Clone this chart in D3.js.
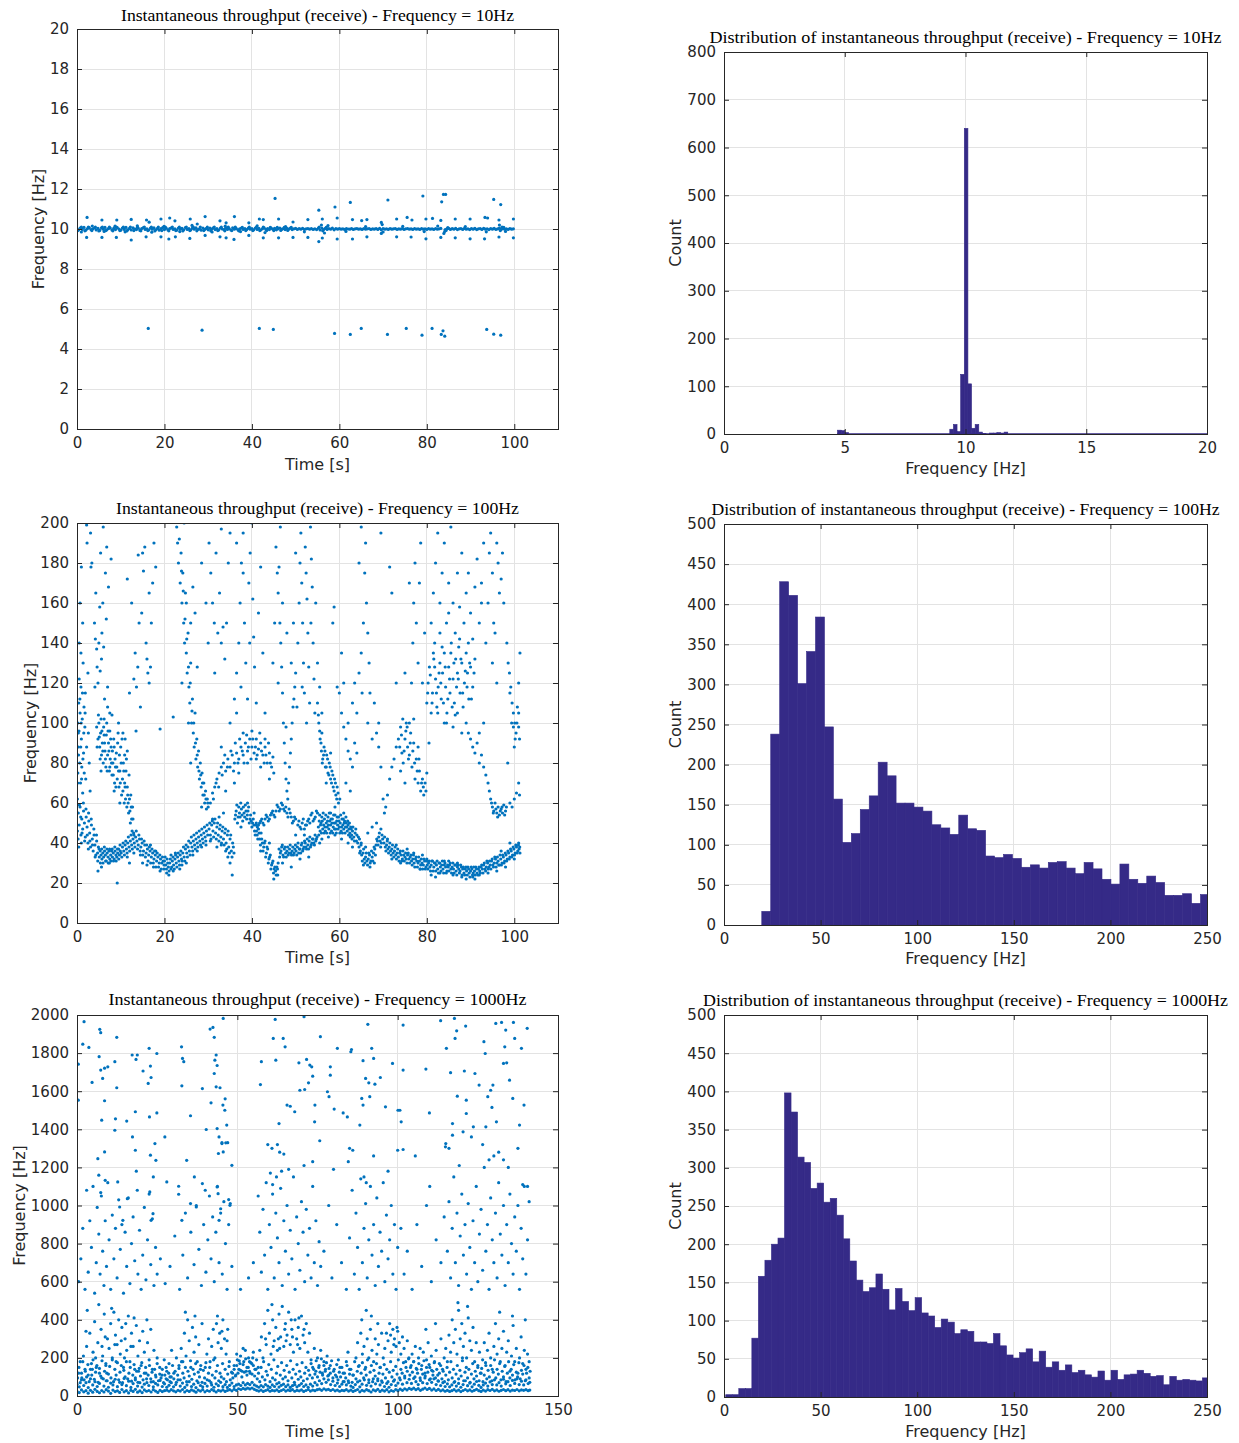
<!DOCTYPE html>
<html>
<head>
<meta charset="utf-8">
<script src="https://cdn.jsdelivr.net/npm/d3@7"></script>
<style>
body { margin: 0; background: #fff; }
</style>
</head>
<body>
<script>
// ---------- data ----------

const titles = [
    "Instantaneous throughput (receive) - Frequency = 10Hz",
    "Distribution of instantaneous throughput (receive) - Frequency = 10Hz",
    "Instantaneous throughput (receive) - Frequency = 100Hz",
    "Distribution of instantaneous throughput (receive) - Frequency = 100Hz",
    "Instantaneous throughput (receive) - Frequency = 1000Hz",
    "Distribution of instantaneous throughput (receive) - Frequency = 1000Hz"
];

const ticksTime110 = [0, 20, 40, 60, 80, 100];
const ticksTime150 = [0, 50, 100, 150];
const ticksFreq20 = [0, 2, 4, 6, 8, 10, 12, 14, 16, 18, 20];
const ticksFreq200 = [0, 20, 40, 60, 80, 100, 120, 140, 160, 180, 200];
const ticksFreq2000 = [0, 200, 400, 600, 800, 1000, 1200, 1400, 1600, 1800, 2000];
const ticksHistX20 = [0, 5, 10, 15, 20];
const ticksHistX250 = [0, 50, 100, 150, 200, 250];
const ticksCount800 = [0, 100, 200, 300, 400, 500, 600, 700, 800];
const ticksCount500 = [0, 50, 100, 150, 200, 250, 300, 350, 400, 450, 500];

// 10 Hz run: time [s], frequency [Hz] pairs
const pts10Band = [
    0.0,10.03, 0.4,9.96, 0.8,10.06, 1.2,9.98, 1.6,10.08, 2.0,9.94, 2.4,10.02, 2.8,10.07, 3.2,9.97, 3.6,10.01, 4.0,10.05, 4.4,9.95, 4.8,10.03, 5.2,9.93, 5.6,10.06, 6.0,9.99, 6.4,10.08, 6.8,9.96, 7.2,10.02, 7.6,10.05, 8.0,9.95, 8.4,10.03, 8.8,9.97, 9.2,10.07, 9.6,10.00,
    10.0,9.94, 10.4,10.05, 10.8,9.98, 11.2,10.08, 11.6,9.96, 12.0,10.03, 12.4,9.95, 12.8,10.06, 13.2,10.00, 13.6,9.97, 14.0,10.04, 14.4,9.93, 14.8,10.02, 15.2,10.07, 15.6,9.98, 16.0,10.01, 16.4,9.95, 16.8,10.05, 17.2,9.99, 17.6,10.06, 18.0,9.96, 18.4,10.03, 18.8,9.94, 19.2,10.02, 19.6,10.07,
    20.0,9.97, 20.4,10.04, 20.8,9.95, 21.2,10.02, 21.6,10.06, 22.0,9.98, 22.4,10.01, 22.8,9.94, 23.2,10.05, 23.6,9.99, 24.0,10.03, 24.4,9.96, 24.8,10.07, 25.2,9.98, 25.6,10.02, 26.0,9.95, 26.4,10.04, 26.8,9.99, 27.2,10.06, 27.6,9.97, 28.0,10.01, 28.4,9.94, 28.8,10.05, 29.2,9.98, 29.6,10.03,
    30.0,9.96, 30.4,10.04, 30.8,9.99, 31.2,10.06, 31.6,9.97, 32.0,10.02, 32.4,9.95, 32.8,10.05, 33.2,10.00, 33.6,9.97, 34.0,10.04, 34.4,9.98, 34.8,10.02, 35.2,9.95, 35.6,10.06, 36.0,9.99, 36.4,10.03, 36.8,9.96, 37.2,10.01, 37.6,10.05, 38.0,9.98, 38.4,10.02, 38.8,9.97, 39.2,10.04, 39.6,9.99,
    40.0,10.02, 40.4,9.96, 40.8,10.05, 41.2,9.98, 41.6,10.03, 42.0,9.95, 42.4,10.01, 42.8,10.06, 43.2,9.98, 43.6,10.02, 44.0,9.97, 44.4,10.04, 44.8,9.99, 45.2,10.03, 45.6,9.96, 46.0,10.01, 46.4,10.05, 46.8,9.98, 47.2,10.02, 47.6,9.97, 48.0,10.03, 48.4,9.99, 48.8,10.04, 49.2,9.97, 49.6,10.01,
    50.0,10.03, 50.4,9.98, 50.8,10.02, 51.2,9.99, 51.6,10.03, 52.0,9.98, 52.4,10.01, 52.8,10.02, 53.2,9.99, 53.6,10.02, 54.0,9.98, 54.4,10.01, 54.8,9.97, 55.2,10.04, 55.6,9.95, 56.0,10.05, 56.4,9.97, 56.8,10.03, 57.2,9.98, 57.6,10.02, 58.0,9.99, 58.4,10.04, 58.8,9.96, 59.2,10.02, 59.6,9.99,
    60.0,10.02, 60.4,9.99, 60.8,10.01, 61.2,9.98, 61.6,10.02, 62.0,10.00, 62.4,9.99, 62.8,10.02, 63.2,9.98, 63.6,10.01, 64.0,10.02, 64.4,9.99, 64.8,10.01, 65.2,9.98, 65.6,10.02, 66.0,9.99, 66.4,10.01, 66.8,10.02, 67.2,9.98, 67.6,10.01, 68.0,9.99, 68.4,10.02, 68.8,9.98, 69.2,10.03, 69.6,9.96,
    70.0,10.02, 70.4,9.99, 70.8,10.01, 71.2,9.98, 71.6,10.02, 72.0,9.99, 72.4,10.01, 72.8,10.02, 73.2,9.98, 73.6,10.01, 74.0,9.99, 74.4,10.02, 74.8,9.98, 75.2,10.01, 75.6,10.02, 76.0,9.99, 76.4,10.01, 76.8,9.98, 77.2,10.02, 77.6,9.99, 78.0,10.01, 78.4,9.98, 78.8,10.02, 79.2,9.99, 79.6,10.01,
    80.0,9.98, 80.4,10.02, 80.8,9.99, 81.2,10.01, 81.6,9.98, 82.0,10.02, 82.4,9.99, 82.8,10.01, 83.2,10.03, 84.2,9.97, 84.6,10.01, 85.0,10.03, 85.4,9.98, 85.8,10.02, 86.2,9.99, 86.6,10.03, 87.0,9.97, 87.4,10.01, 87.8,10.02, 88.2,9.98, 88.6,10.03, 89.0,9.99, 89.4,10.01, 89.8,9.97,
    90.2,10.02, 90.6,9.99, 91.0,10.03, 91.4,9.97, 91.8,10.01, 92.2,10.02, 92.6,9.98, 93.0,10.03, 93.4,9.99, 93.8,10.01, 94.2,9.97, 94.6,10.02, 95.0,9.99, 95.4,10.03, 95.8,9.98, 96.2,10.01, 96.6,10.04, 97.0,9.97, 97.4,10.02, 97.8,9.99, 98.2,10.01, 98.6,9.98, 99.0,10.02, 99.4,9.99, 99.8,10.01,
    0.2,9.92, 1.0,10.09, 1.8,9.91, 2.6,10.1, 3.4,9.92, 4.2,10.09, 5.0,9.9, 5.8,10.1, 6.6,9.92, 7.4,10.09, 8.2,9.91, 9.0,10.1, 9.8,9.92, 10.6,10.09, 11.4,9.9,
    12.2,10.1, 13.0,9.92, 13.8,10.09, 14.6,9.91, 15.4,10.1, 16.2,9.92, 17.0,10.09, 17.8,9.9, 18.6,10.1, 19.4,9.92, 20.2,10.09, 21.0,9.91, 21.8,10.1,
    22.6,9.92, 23.4,10.09, 24.2,9.9, 25.0,10.1, 25.8,9.92, 26.6,10.09, 27.4,9.91, 28.2,10.1, 29.0,9.92, 29.8,10.09, 30.6,9.91, 31.4,10.1, 32.2,9.92,
    33.0,10.09, 33.8,9.91, 34.6,10.1, 35.4,9.92, 36.2,10.09, 37.0,9.91, 37.8,10.08, 38.6,9.92, 39.4,10.09, 40.2,9.92, 41.0,10.08, 41.8,9.92, 42.6,10.09,
    43.4,9.93, 44.2,10.08, 45.0,9.92, 45.8,10.08, 46.6,9.93, 47.4,10.08, 48.2,9.93, 49.0,10.08, 55.4,10.1, 56.2,9.91, 57.0,10.08, 84.4,9.93, 84.8,10.07,
    96.8,9.92, 97.6,10.08
];
const pts10Out = [
    2.3,10.58, 5.7,10.45, 9.1,10.45, 12.4,10.48, 15.9,10.45, 16.5,10.34, 19.2,10.5, 21.2,10.55, 22.4,10.41, 25.9,10.5, 27.5,10.25, 29.3,10.62,
    32.7,10.41, 34.1,10.31, 36.0,10.62, 39.3,10.31, 41.7,10.5, 42.6,10.47, 45.3,11.53, 46.1,10.5, 49.4,10.35, 52.8,10.47, 55.3,10.94, 56.1,10.5,
    59.0,11.1, 59.5,10.55, 62.5,11.33, 63.0,10.47, 65.1,10.42, 66.3,10.47, 69.6,10.33, 71.1,11.45, 73.1,10.5, 75.5,10.58, 76.6,10.45, 79.1,11.65,
    79.8,10.5, 81.3,10.53, 83.2,10.43, 83.4,11.36, 83.8,11.73, 84.3,11.73, 86.5,10.5, 89.9,10.5, 93.3,10.58, 93.9,10.55, 95.3,11.48, 96.5,10.45,
    96.9,11.22, 99.8,10.5,
    2.2,9.58, 5.7,9.58, 9.0,9.58, 12.4,9.45, 15.8,9.61, 19.2,9.61, 21.0,9.5, 22.5,9.61, 25.8,9.53, 29.3,9.68, 32.7,9.61, 34.1,9.56, 35.9,9.48,
    39.3,9.68, 42.6,9.56, 46.1,9.56, 49.4,9.58, 52.8,9.58, 55.3,9.37, 56.1,9.55, 59.5,9.5, 63.0,9.5, 66.3,9.61, 69.6,9.78, 73.1,9.61, 76.4,9.6,
    79.8,9.51, 83.2,9.58, 86.5,9.56, 89.9,9.51, 93.2,9.51, 96.5,9.6, 99.8,9.56,
    1.0,9.85, 3.5,10.15, 6.2,9.88, 8.7,10.14, 11.0,9.86, 13.8,10.16, 17.1,9.84, 19.9,10.13, 23.5,9.87, 26.3,10.18, 30.9,9.85, 33.9,10.14,
    37.4,9.87, 41.2,10.16, 43.0,9.82, 47.7,10.12, 52.0,9.86, 55.9,10.2, 56.6,9.8, 57.4,10.17, 61.5,9.88, 66.0,10.12, 69.8,10.22, 70.0,9.85,
    74.5,10.13, 79.4,9.87, 82.5,10.15, 83.9,9.78, 84.1,9.88, 88.8,10.12, 93.6,9.86, 96.6,10.2, 97.2,10.1, 98.0,9.88,
    16.3,5.03, 28.6,4.94, 41.7,5.03, 44.9,4.98, 58.9,4.78, 62.5,4.73, 65.0,5.03, 71.0,4.73, 75.3,5.03, 78.9,4.69, 81.2,5.03, 83.3,4.73,
    83.7,4.91, 84.1,4.64, 93.7,4.98, 95.3,4.74, 96.9,4.69
];

// 10 Hz histogram: [bin start, count], bin width 0.15 Hz, empty bins drawn as a flat edge
const hist10Bins = [
    4.70,8, 4.85,7, 5.00,3, 9.35,10, 9.50,20, 9.65,5, 9.80,125, 9.95,640, 10.10,105, 10.25,12, 10.40,20, 10.55,4,
    10.70,1, 11.00,2, 11.15,2, 11.30,3, 11.45,2, 11.60,4
];
const hist10Width = 0.15;
const hist10Span = [4.70, 20];

// 100 Hz run: lower band and the upper strands
const pts100Floor = [
    0.1,46, 0.3,55, 0.5,49, 0.7,58, 0.9,44, 1.1,52, 1.3,47, 1.5,56, 1.7,50, 1.9,43, 2.1,53, 2.3,48, 2.5,40, 2.7,51, 2.9,45, 3.1,38, 3.3,49, 3.5,42, 3.7,36, 3.9,44,
    4.1,39, 4.3,34, 4.5,41, 4.7,35, 4.9,38, 5.1,33, 5.3,36, 5.5,34, 5.7,32, 5.9,35, 6.1,33, 6.3,36, 6.5,34, 6.7,31, 6.9,35, 7.1,33, 7.3,36, 7.5,32, 7.7,34, 7.9,36,
    8.1,33, 8.3,35, 8.5,32, 8.7,36, 8.9,34, 9.1,33, 9.3,35, 9.5,37, 9.7,34, 9.9,36, 4.8,26, 5.6,28, 7.4,30, 9.2,20, 2.6,37, 1.0,40, 0.4,38,
    10.1,35, 10.4,38, 10.7,36, 11.0,39, 11.3,37, 11.6,40, 11.9,38, 12.2,41, 12.5,39, 12.8,42, 13.1,40, 13.4,43, 13.7,41, 14.0,39, 14.3,42, 14.6,38, 14.9,40,
    15.2,36, 15.5,39, 15.8,35, 16.1,37, 16.4,34, 16.7,36, 17.0,33, 17.3,35, 17.6,32, 17.9,34, 18.2,31, 18.5,33, 18.8,30, 19.1,32, 19.4,30, 19.7,31, 19.9,29,
    12.0,30, 13.0,35, 15.0,30, 16.0,29, 17.5,28, 19.0,26, 11.5,33, 14.5,34, 18.0,36, 16.8,39,
    20.0,31, 20.3,29, 20.6,32, 20.9,28, 21.2,30, 21.5,27, 21.8,31, 22.1,29, 22.4,32, 22.7,30, 23.0,33, 23.3,31, 23.6,34, 23.9,32, 24.2,35, 24.5,33, 24.8,37,
    25.1,35, 25.4,38, 25.7,36, 26.0,40, 26.3,38, 26.6,41, 26.9,39, 27.2,42, 27.5,40, 27.8,43, 28.1,41, 28.4,44, 28.7,42, 29.0,45, 29.3,43, 29.6,46, 29.9,44,
    20.5,25, 21.0,24, 22.0,26, 23.5,27, 24.0,29, 25.0,30, 21.5,34, 26.5,34, 27.5,36, 28.5,38, 22.5,35, 29.5,39,
    30.2,47, 30.5,44, 30.8,49, 31.1,46, 31.4,50, 31.7,45, 32.0,48, 32.3,44, 32.6,47, 32.9,43, 33.2,46, 33.5,42, 33.8,45, 34.1,40, 34.4,44, 34.7,38, 35.0,42,
    35.3,36, 35.6,40, 35.9,35, 31.0,52, 32.0,38, 33.0,39, 34.0,36, 34.5,33, 30.5,41, 32.5,53, 35.0,30, 33.5,55, 35.5,24,
    36.1,52, 36.4,56, 36.7,50, 37.0,58, 37.3,53, 37.6,57, 37.9,51, 38.2,55, 38.5,59, 38.8,52, 39.1,56, 39.4,50, 39.7,54, 40.0,48, 40.3,52, 40.6,46, 40.9,49,
    41.2,44, 41.5,47, 41.8,42, 42.1,45, 42.4,40, 42.7,38, 43.0,41, 43.3,35, 43.6,37, 43.9,32, 44.2,34, 44.5,29, 44.8,31, 45.1,27, 45.4,26, 45.7,28, 45.9,24,
    41.0,50, 41.5,49, 42.0,51, 42.5,50, 43.0,52, 43.5,53, 44.0,52, 44.5,55, 45.0,54, 45.5,56, 46.0,58, 46.5,57, 47.0,59, 47.5,56, 48.0,55, 48.5,57, 49.0,53,
    49.5,51, 50.0,52, 37.5,48, 39.0,60, 40.5,55, 42.0,36, 44.0,40, 45.0,22, 46.0,30,
    46.2,37, 46.5,35, 46.8,38, 47.1,34, 47.4,37, 47.7,35, 48.0,36, 48.3,34, 48.6,37, 48.9,35, 49.2,36, 49.5,34, 49.8,37, 50.1,36, 50.4,38, 50.7,35, 51.0,37,
    51.3,39, 51.6,36, 51.9,38, 52.2,40, 52.5,37, 52.8,39, 53.1,41, 53.4,38, 53.7,40, 54.0,42, 54.3,39, 54.6,41, 54.9,43,
    50.5,49, 51.0,48, 51.5,50, 52.0,47, 52.5,49, 53.0,52, 53.5,54, 54.0,51, 54.5,53, 55.0,55, 47.0,30, 49.0,28, 51.0,32, 53.0,33, 50.0,44, 52.0,44,
    55.2,48, 55.4,51, 55.6,46, 55.8,50, 56.0,53, 56.2,47, 56.4,49, 56.6,52, 56.8,46, 57.0,50, 57.2,48, 57.4,53, 57.6,47, 57.8,51, 58.0,49, 58.2,46, 58.4,52,
    58.6,48, 58.8,50, 59.0,54, 59.2,47, 59.4,51, 59.6,49, 59.8,53, 60.0,48, 60.2,50, 60.4,46, 60.6,52, 60.8,49, 61.0,47, 61.2,51, 61.4,48, 61.6,50, 61.8,46,
    62.0,49, 62.2,47, 62.4,45, 62.6,48, 62.8,44, 63.0,46, 63.3,43, 63.6,45, 63.9,41, 56.0,42, 57.5,43, 59.0,44, 60.5,42, 58.0,55, 61.0,55, 55.5,40, 62.0,40,
    64.2,40, 64.5,38, 64.8,36, 65.1,34, 65.4,35, 65.7,32, 66.0,33, 66.3,31, 66.6,32, 66.9,34, 67.2,31, 67.5,33, 67.8,35, 68.1,37, 68.4,39, 68.7,41, 69.0,43,
    69.3,41, 69.6,40, 69.9,42, 64.0,44, 65.0,40, 66.0,38, 67.0,28, 68.0,30, 65.5,29, 63.0,38, 64.6,42, 66.5,45, 67.5,48, 68.5,50, 69.5,47,
    70.2,40, 70.5,38, 70.8,39, 71.1,37, 71.4,38, 71.7,36, 72.0,37, 72.3,35, 72.6,36, 72.9,34, 73.2,35, 73.5,33, 73.8,35, 74.1,34, 74.4,32, 74.7,34, 75.0,33,
    75.3,32, 75.6,34, 75.9,32, 76.2,33, 76.5,31, 76.8,32, 77.1,30, 77.4,32, 77.7,31, 78.0,30, 78.3,31, 78.6,29, 78.9,30, 79.2,29, 79.5,31, 79.8,28,
    71.0,42, 72.0,32, 73.0,39, 74.0,30, 75.5,37, 77.0,35, 78.5,27, 79.0,34,
    80.1,29, 80.4,30, 80.7,28, 81.0,29, 81.3,31, 81.6,28, 81.9,30, 82.2,29, 82.5,27, 82.8,30, 83.1,28, 83.4,29, 83.7,27, 84.0,29, 84.3,28, 84.6,26, 84.9,28,
    85.2,29, 85.5,27, 85.8,28, 86.1,27, 86.4,29, 86.7,26, 87.0,28, 87.3,27, 87.6,26, 87.9,28, 88.2,27, 88.5,25, 88.8,27, 89.1,26, 89.4,28, 89.7,25,
    81.0,24, 82.0,23, 84.0,31, 86.0,24, 88.0,23, 87.0,30, 83.0,25, 85.0,31, 89.0,22, 80.0,32,
    90.0,26, 90.3,27, 90.6,25, 90.9,26, 91.2,28, 91.5,25, 91.8,27, 92.1,26, 92.4,28, 92.7,27, 93.0,29, 93.3,27, 93.6,28, 93.9,30, 94.2,28, 94.5,29, 94.8,31,
    95.1,29, 95.4,30, 95.7,32, 96.0,30, 96.3,31, 96.6,29, 96.9,32, 97.2,30, 97.5,33, 97.8,31, 98.1,34, 98.4,32, 98.7,35, 99.0,33, 99.3,36, 99.6,34, 99.9,37,
    100.2,35, 100.5,38, 100.8,36, 101.1,37, 101.3,35, 90.5,23, 91.0,22, 92.0,24, 94.0,25, 96.0,26, 98.0,28, 99.0,40, 100.0,32, 101.0,40, 97.0,36
];
const pts100FloorEdge = [
    0.25,42, 0.55,59, 0.85,53, 1.15,45, 1.45,60, 1.75,41, 2.05,57, 2.35,44, 2.65,55, 2.95,41, 3.25,52, 3.55,39, 3.85,47, 4.15,33, 4.45,44, 4.75,31,
    5.05,37, 5.35,30, 5.65,37, 5.95,30, 6.25,38, 6.55,31, 6.85,37, 7.15,30, 7.45,37, 7.75,31, 8.05,37, 8.35,31, 8.65,38, 8.95,31, 9.25,37, 9.55,32, 9.85,39,
    10.25,33, 10.55,40, 10.85,34, 11.15,41, 11.45,35, 11.75,43, 12.05,36, 12.35,44, 12.65,37, 12.95,45, 13.25,38, 13.55,46, 13.85,37, 14.15,44, 14.45,36,
    14.75,42, 15.05,34, 15.35,41, 15.65,33, 15.95,39, 16.25,31, 16.55,38, 16.85,30, 17.15,37, 17.45,30, 17.75,36, 18.05,28, 18.35,35, 18.65,28, 18.95,34,
    19.25,27, 19.55,33, 19.85,27,
    20.15,33, 20.45,27, 20.75,30, 21.05,26, 21.35,32, 21.65,28, 21.95,33, 22.25,27, 22.55,34, 22.85,28, 23.15,35, 23.45,29, 23.75,36, 24.05,31, 24.35,38,
    24.65,31, 24.95,39, 25.25,33, 25.55,41, 25.85,34, 26.15,43, 26.45,36, 26.75,44, 27.05,37, 27.35,45, 27.65,38, 27.95,46, 28.25,39, 28.55,47, 28.85,40,
    29.15,48, 29.45,41, 29.75,49,
    30.35,50, 30.65,42, 30.95,51, 31.25,43, 31.55,52, 31.85,42, 32.15,50, 32.45,41, 32.75,49, 33.05,40, 33.35,48, 33.65,39, 33.95,47, 34.25,37, 34.55,46,
    34.85,35, 35.15,44, 35.45,33, 35.75,38,
    36.25,54, 36.55,59, 36.85,53, 37.15,55, 37.45,60, 37.75,54, 38.05,58, 38.35,53, 38.65,56, 38.95,54, 39.25,58, 39.55,52, 39.85,51, 40.15,50, 40.45,49,
    40.75,44, 41.05,46, 41.35,42, 41.65,45, 41.95,39, 42.25,42, 42.55,36, 42.85,40, 43.15,33, 43.45,38, 43.75,30, 44.05,33, 44.35,27, 44.65,30, 44.95,25,
    45.25,28, 45.55,24, 45.85,27,
    41.25,48, 41.75,50, 42.25,52, 42.75,49, 43.25,54, 43.75,51, 44.25,54, 44.75,56, 45.25,53, 45.75,59, 46.25,56, 46.75,60, 47.25,57, 47.75,58, 48.25,53,
    48.75,55, 49.25,50, 49.75,53,
    46.35,33, 46.65,36, 46.95,39, 47.25,33, 47.55,38, 47.85,33, 48.15,38, 48.45,35, 48.75,39, 49.05,34, 49.35,38, 49.65,35, 49.95,39, 50.25,34, 50.55,40,
    50.85,37, 51.15,35, 51.45,40, 51.75,37, 52.05,41, 52.35,38, 52.65,42, 52.95,37, 53.25,43, 53.55,39, 53.85,42, 54.15,40, 54.45,44, 54.75,42,
    50.75,51, 51.25,47, 51.75,52, 52.25,49, 52.75,51, 53.25,50, 53.75,55, 54.25,52, 54.75,56,
    55.3,44, 55.5,54, 55.7,49, 55.9,45, 56.1,51, 56.3,55, 56.5,45, 56.7,48, 56.9,54, 57.1,45, 57.3,51, 57.5,49, 57.7,55, 57.9,45, 58.1,52, 58.3,50,
    58.5,45, 58.7,54, 58.9,47, 59.1,50, 59.3,45, 59.5,53, 59.7,47, 59.9,51, 60.1,45, 60.3,54, 60.5,48, 60.7,45, 60.9,52, 61.1,50, 61.3,45, 61.5,53,
    61.7,48, 61.9,51, 62.1,44, 62.3,50, 62.5,43, 62.7,47, 62.9,42, 63.1,48, 63.45,41, 63.75,47,
    64.35,43, 64.65,35, 64.95,39, 65.25,31, 65.55,37, 65.85,30, 66.15,35, 66.45,29, 66.75,35, 67.05,30, 67.35,36, 67.65,31, 67.95,38, 68.25,34, 68.55,42,
    68.85,39, 69.15,45, 69.45,38, 69.75,44,
    70.35,43, 70.65,36, 70.95,41, 71.25,35, 71.55,40, 71.85,34, 72.15,39, 72.45,33, 72.75,38, 73.05,32, 73.35,37, 73.65,31, 73.95,36, 74.25,31, 74.55,36,
    74.85,31, 75.15,35, 75.45,30, 75.75,35, 76.05,30, 76.35,34, 76.65,29, 76.95,34, 77.25,28, 77.55,33, 77.85,28, 78.15,33, 78.45,27, 78.75,32, 79.05,27,
    79.35,32, 79.65,27, 79.95,31,
    80.25,27, 80.55,31, 80.85,26, 81.15,31, 81.45,26, 81.75,30, 82.05,26, 82.35,31, 82.65,25, 82.95,30, 83.25,26, 83.55,31, 83.85,25, 84.15,30, 84.45,25,
    84.75,29, 85.05,26, 85.35,30, 85.65,25, 85.95,30, 86.25,25, 86.55,29, 86.85,24, 87.15,29, 87.45,25, 87.75,29, 88.05,24, 88.35,28, 88.65,24, 88.95,28,
    89.25,24, 89.55,27, 89.85,23,
    90.15,28, 90.45,24, 90.75,28, 91.05,24, 91.35,27, 91.65,24, 91.95,28, 92.25,25, 92.55,29, 92.85,25, 93.15,30, 93.45,26, 93.75,31, 94.05,27, 94.35,31,
    94.65,27, 94.95,32, 95.25,28, 95.55,33, 95.85,28, 96.15,33, 96.45,29, 96.75,34, 97.05,29, 97.35,34, 97.65,30, 97.95,35, 98.25,31, 98.55,36, 98.85,32,
    99.15,37, 99.45,33, 99.75,38, 100.05,34, 100.35,39, 100.65,35, 100.95,39, 101.25,38
];
const pts100Upper = [
    0.1,62, 0.2,75, 0.3,88, 0.2,100, 0.4,110, 0.5,122, 0.3,95, 0.6,80, 0.7,105, 0.8,70, 0.5,140, 0.9,118, 1.0,92, 1.2,102, 1.1,78, 1.3,65, 1.5,85,
    1.6,108, 1.4,130, 1.8,98, 2.0,72, 2.2,88, 0.7,160, 1.0,178, 1.3,150, 2.5,125, 2.6,95, 2.8,80, 3.0,66, 0.9,135, 1.9,115, 2.3,190, 3.2,178,
    4.0,150, 4.3,165, 4.6,128, 4.8,120, 5.0,140, 5.2,158, 5.4,185, 5.6,132, 5.7,145, 5.9,160, 6.1,138, 6.3,112, 6.5,175, 6.7,152, 7.0,118, 7.2,168,
    7.5,105, 3.1,195, 3.4,180, 4.1,118, 4.5,137, 6.0,198, 6.8,188, 2.2,199, 4.2,142, 5.3,126, 7.8,182,
    4.5,98, 4.8,92, 5.0,100, 5.2,88, 5.4,95, 5.6,84, 5.8,90, 6.0,80, 6.2,94, 6.4,86, 6.6,78, 6.8,100, 7.0,84, 7.2,90, 7.4,76, 7.6,82, 7.8,88, 8.0,74,
    8.2,80, 8.4,92, 8.6,70, 8.8,78, 9.0,85, 9.2,72, 9.4,95, 9.6,68, 9.8,76, 10.0,88, 10.2,64, 10.4,72, 10.6,80, 10.8,60, 11.0,68, 11.2,76, 11.4,58,
    11.6,64, 11.8,55, 12.0,62, 12.2,50, 12.4,58, 12.6,46, 10.5,95, 11.0,92, 9.5,100, 8.0,104, 7.0,108, 6.2,102, 5.5,76, 9.8,60, 11.5,86, 12.8,52,
    13.0,44, 8.5,66, 7.5,96, 10.9,84,
    13.0,122, 13.3,135, 13.6,118, 13.9,128, 14.2,150, 14.5,108, 15.0,185, 15.2,176, 15.5,188, 15.8,140, 16.0,132, 16.2,125, 16.5,120, 16.8,128,
    17.0,150, 17.3,170, 17.6,190, 14.0,184, 12.5,160, 13.5,96, 16.5,165, 18.0,178, 14.8,155, 11.5,172, 12.0,115, 19.0,97,
    22.8,198, 23.0,190, 23.2,180, 23.4,192, 23.6,170, 23.8,185, 24.0,160, 24.2,175, 24.4,150, 24.6,140, 24.8,165, 25.0,135, 25.2,125, 25.4,145,
    25.6,118, 25.8,110, 26.0,130, 26.2,100, 26.4,112, 26.6,95, 26.8,88, 27.0,105, 27.2,82, 27.4,92, 27.6,78, 27.8,86, 28.0,72, 28.2,80, 28.4,68,
    28.6,75, 28.8,64, 29.0,70, 29.2,60, 29.4,66, 29.6,57, 29.8,62, 30.0,58, 24.0,120, 25.0,160, 26.0,150, 24.5,200, 26.5,168, 27.0,155, 27.5,128,
    26.0,80, 25.5,100, 22.0,103, 28.5,58,
    30.5,60, 31.0,65, 31.5,68, 32.0,72, 32.5,75, 33.0,78, 33.5,80, 34.0,76, 34.5,82, 35.0,78, 35.5,84, 36.0,80, 36.5,85, 37.0,82, 37.5,88, 38.0,84,
    38.5,90, 39.0,86, 39.5,92, 40.0,88, 40.5,85, 41.0,92, 41.5,87, 42.0,90, 42.5,84, 43.0,88, 43.5,80, 44.0,85, 44.5,78, 36.0,70, 37.0,75, 38.0,95,
    39.0,80, 40.0,96, 41.0,82, 42.0,78, 43.0,92, 34.0,66, 33.0,88, 44.0,72, 45.0,75, 35.0,100, 36.5,105,
    30.2,190, 30.6,175, 31.0,160, 31.4,150, 31.8,185, 32.2,145, 32.6,165, 33.0,140, 33.4,148, 33.8,132, 34.2,150, 34.6,180, 35.0,195, 30.0,140,
    31.5,125, 29.5,160, 28.5,180, 33.0,197,
    36.5,125, 37.0,140, 37.3,160, 37.6,180, 38.0,195, 38.3,150, 38.6,130, 39.0,112, 39.3,170, 39.6,185, 40.0,200, 40.2,162, 40.4,143, 40.6,128,
    41.0,110, 41.5,155, 42.0,178, 42.5,135, 43.0,105, 36.0,112, 37.5,118, 39.5,140, 38.0,175, 36.5,190,
    45.5,188, 45.8,175, 46.0,165, 46.2,178, 46.4,150, 46.6,140, 46.8,128, 47.0,115, 47.2,100, 47.4,90, 47.6,80, 47.8,72, 48.0,66, 48.2,62, 48.4,70,
    48.6,78, 48.8,85, 49.0,92, 49.2,100, 49.4,108, 49.6,112, 49.8,118, 50.0,125, 47.0,160, 46.5,198, 48.0,145, 49.0,130, 45.2,150, 44.8,130,
    47.8,98, 46.0,120,
    50.5,140, 50.8,160, 51.0,180, 51.2,195, 51.4,170, 51.6,150, 51.8,130, 52.0,115, 52.2,188, 52.4,175, 52.6,162, 52.8,145, 53.0,128, 53.2,110,
    53.4,198, 53.6,182, 53.8,168, 54.0,140, 54.2,122, 54.4,105, 54.6,160, 55.0,130, 50.3,108, 52.5,100, 51.5,118, 53.5,150, 49.5,150, 50.0,185,
    55.5,118, 56.0,105,
    55.0,110, 55.3,100, 55.6,92, 55.9,86, 56.2,82, 56.5,88, 56.8,78, 57.1,84, 57.4,75, 57.7,80, 58.0,72, 58.3,76, 58.6,68, 58.9,72, 59.2,64, 59.5,68,
    59.8,60, 60.1,62, 56.0,95, 57.0,70, 58.0,85, 59.0,58,
    60.0,115, 60.5,105, 61.0,98, 61.5,92, 62.0,86, 62.5,82, 63.0,78, 62.0,100, 63.0,110, 63.5,120, 64.0,105, 64.5,125, 65.0,135, 65.2,115, 65.5,150,
    65.8,175, 66.0,190, 66.2,160, 66.5,145, 66.8,130, 64.5,180, 65.0,198, 61.5,70, 62.5,66, 63.5,90, 60.5,135, 58.5,150, 58.8,158, 59.5,118,
    61.0,120, 64.0,85, 66.5,100, 67.0,115, 67.5,92,
    68.5,95, 69.0,88, 69.5,78, 70.0,62, 70.3,55, 70.6,58, 71.0,64, 71.5,72, 72.0,78, 72.5,82, 73.0,88, 69.0,100, 68.0,110, 69.5,195, 71.5,178,
    72.0,165, 73.0,120,
    73.5,92, 74.0,98, 74.3,85, 74.6,80, 75.0,92, 75.3,100, 75.6,88, 76.0,84, 76.3,95, 76.6,78, 77.0,90, 77.3,72, 77.6,82, 78.0,70, 78.3,76, 78.6,66,
    79.0,72, 79.3,64, 79.6,70, 80.0,75, 74.0,76, 75.0,70, 76.0,100, 77.0,102, 78.0,88, 76.5,120, 76.8,140, 77.0,160, 77.3,180, 77.6,150, 78.0,130,
    78.3,170, 78.6,190, 79.0,120, 79.5,145, 76.0,170, 75.0,125,
    80.0,110, 80.3,120, 80.6,128, 81.0,105, 81.3,115, 81.6,132, 82.0,122, 82.3,108, 82.6,118, 83.0,130, 83.3,112, 83.6,125, 84.0,135, 84.3,118,
    84.6,105, 85.0,128, 85.3,115, 85.6,140, 86.0,122, 86.3,110, 86.6,132, 87.0,125, 87.3,138, 87.6,115, 88.0,130, 88.3,108, 88.6,120, 89.0,135,
    89.3,125, 89.6,112, 90.0,128, 90.5,118, 91.0,132, 81.0,150, 81.5,165, 82.0,180, 82.5,195, 83.0,160, 83.5,175, 84.0,190, 84.5,150, 85.0,170,
    85.5,198, 86.0,160, 86.5,145, 87.0,175, 87.5,158, 88.0,185, 88.5,150, 89.0,165, 89.5,175, 90.0,155, 90.5,142, 91.0,168, 91.5,182, 92.0,150,
    92.5,160, 80.5,90, 81.8,140, 84.0,100, 86.0,98, 88.0,95, 87.0,105, 83.0,145, 85.0,155,
    89.0,100, 89.5,95, 90.0,92, 90.5,88, 91.0,85, 91.5,90, 92.0,80, 92.5,84, 93.0,78, 93.5,74, 94.0,70, 94.3,66, 94.6,62, 95.0,58, 95.3,56, 95.6,60,
    96.0,55, 96.3,58, 96.6,54, 97.0,57, 97.3,55, 97.6,59, 98.0,56, 92.0,95, 93.0,100, 93.5,140, 94.0,160, 94.3,185, 94.6,195, 95.0,175, 95.3,150,
    95.6,145, 96.0,190, 96.3,180, 96.6,165, 97.0,172, 97.3,185, 97.6,160, 92.5,170, 93.0,190, 95.0,130, 96.0,120,
    98.3,140, 98.6,130, 98.9,125, 99.2,118, 99.5,110, 99.8,105, 100.1,100, 100.4,95, 100.7,108, 101.0,98, 101.2,92, 99.0,60, 99.5,58, 100.0,62,
    100.5,65, 101.0,70, 101.2,64, 100.0,88, 101.0,120, 101.3,135, 98.5,80,
    0.15,70, 0.35,84, 0.45,96, 0.65,112, 0.85,88, 0.95,100, 1.05,72, 1.25,115, 1.35,82, 1.55,95, 1.65,75, 1.85,105,
    4.6,88, 4.9,104, 5.1,93, 5.3,82, 5.5,102, 5.7,96, 5.9,86, 6.1,98, 6.3,90, 6.5,82, 6.7,94, 6.9,76, 7.1,96, 7.3,86, 7.5,78, 7.7,92, 7.9,80, 8.1,86,
    8.3,74, 8.5,88, 8.7,82, 8.9,68, 9.1,78, 9.3,90, 9.5,76, 9.7,84, 9.9,70, 10.1,80, 10.3,92, 10.5,66, 10.7,76, 10.9,70, 11.1,62, 11.3,82, 11.5,68,
    11.7,60, 11.9,74, 12.1,56, 12.3,64, 12.5,52, 12.7,58,
    23.9,176, 24.3,166, 24.7,152, 25.1,142, 25.5,128, 25.9,120, 26.3,106, 26.7,100, 27.1,90, 27.5,84, 27.9,76, 28.3,74, 28.7,70, 29.1,64, 29.5,62, 29.9,60,
    31.2,62, 31.8,70, 32.4,68, 33.2,74, 33.8,84, 34.4,78, 35.2,86, 35.8,76, 36.2,90, 36.8,80, 37.2,92, 37.8,86, 38.2,80, 38.8,94, 39.2,88, 39.8,82,
    40.2,92, 40.8,88, 41.2,84, 41.8,95, 42.2,86, 42.8,80, 43.2,84, 43.8,90, 44.2,80, 44.8,83,
    55.2,104, 55.5,96, 55.8,90, 56.1,80, 56.4,84, 56.7,86, 57.0,78, 57.3,82, 57.6,74, 57.9,78, 58.2,70, 58.5,74, 58.8,66, 59.1,70, 59.4,62, 59.7,65,
    73.8,88, 74.2,94, 74.8,86, 75.2,96, 75.8,82, 76.2,90, 76.8,86, 77.2,80, 77.8,76, 78.2,82, 78.8,70, 79.2,68, 79.8,66, 74.5,102, 75.5,98,
    80.2,115, 80.8,124, 81.2,110, 81.8,128, 82.2,115, 82.8,125, 83.2,120, 83.8,110, 84.2,128, 84.8,112, 85.2,122, 85.8,108, 86.2,130, 86.8,118,
    87.2,122, 87.8,132, 88.2,115, 88.8,126, 89.2,118, 89.8,130, 90.2,112, 90.8,125, 81.5,135, 83.5,138, 85.5,135, 87.5,142, 89.5,140, 82.5,105,
    84.5,100, 86.5,104,
    94.8,60, 95.2,55, 95.8,57, 96.2,53, 96.8,56, 97.2,58, 97.8,54, 98.2,58, 99.0,115, 99.4,100, 99.8,98, 100.2,92, 100.6,100, 101.0,105
];

// 100 Hz histogram: first bin start, bin width, counts
const hist100Start = 19.56;
const hist100Width = 4.634;
const hist100Counts = [
    17, 238, 428, 411, 301, 341, 384, 247, 157, 103, 114, 144, 161, 203, 186, 152, 152, 147, 142, 125,
    121, 113, 137, 120, 118, 86, 84, 88, 83, 72, 75, 71, 78, 79, 71, 64, 78, 70, 57, 51,
    76, 57, 52, 61, 53, 37, 37, 39, 27, 38
];

// 1000 Hz run: lower band as [time, low, high] triples, then the clouds above it
const pts1000Floor = [
    0.0,25,62, 0.7,18,48, 1.4,32,85, 2.1,22,55, 2.8,28,70, 3.5,15,44, 4.2,30,90, 4.9,20,58, 5.6,35,75, 6.3,24,50, 7.0,17,66, 7.7,29,95, 8.4,21,52,
    9.1,33,80, 9.8,26,46, 10.5,14,68, 11.2,31,58, 11.9,23,88, 12.6,27,49, 13.3,19,72, 14.0,34,60, 14.7,22,92, 15.4,28,54, 16.1,16,78, 16.8,30,45,
    17.5,24,65, 18.2,35,85, 18.9,20,52, 19.6,27,70, 20.3,18,47, 21.0,32,62, 21.7,25,90, 22.4,29,55, 23.1,21,74, 23.8,33,48, 24.5,26,66, 25.2,19,58,
    25.9,30,82, 26.6,23,50, 27.3,28,64, 28.0,31,46, 28.7,25,56, 29.4,33,70, 30.1,27,48, 30.8,22,60, 31.5,30,85, 32.2,26,52, 32.9,34,68, 33.6,21,45,
    34.3,29,58, 35.0,24,75, 35.7,32,50, 36.4,27,62, 37.1,20,44, 37.8,31,70, 38.5,26,55, 39.2,33,48, 39.9,22,66, 40.6,29,52, 41.3,25,80, 42.0,34,58,
    42.7,28,46, 43.4,21,64, 44.1,30,54, 44.8,26,72, 45.5,32,49, 46.2,24,60, 46.9,29,45, 47.6,33,56, 48.3,27,68, 49.0,35,50, 49.7,30,58, 50.4,38,62,
    51.1,34,55, 51.8,40,70, 52.5,36,58, 53.2,41,66, 53.9,37,60, 54.6,42,72, 55.3,35,58, 56.0,30,52, 56.7,26,46, 57.4,31,55, 58.1,24,48, 58.8,29,60,
    59.5,33,52, 60.2,25,45, 60.9,30,58, 61.6,27,50, 62.3,32,64, 63.0,24,47, 63.7,29,56, 64.4,34,62, 65.1,26,49, 65.8,31,58, 66.5,28,45, 67.2,33,54,
    67.9,25,60, 68.6,30,48, 69.3,27,56, 70.0,32,65, 70.7,24,50, 71.4,29,58, 72.1,34,46, 72.8,26,62, 73.5,31,52, 74.2,28,70, 74.9,33,58, 75.6,36,80,
    76.3,30,65, 77.0,38,90, 77.7,32,72, 78.4,35,85, 79.1,29,60, 79.8,34,78, 80.5,27,55, 81.2,31,68, 81.9,25,50, 82.6,30,62, 83.3,28,75, 84.0,33,58,
    84.7,26,70, 85.4,31,52, 86.1,24,45, 86.8,29,60, 87.5,34,74, 88.2,22,48, 88.9,30,62, 89.6,26,85, 90.3,33,56, 91.0,28,70, 91.7,21,52, 92.4,32,90,
    93.1,27,64, 93.8,35,80, 94.5,24,58, 95.2,31,72, 95.9,26,50, 96.6,33,66, 97.3,22,46, 98.0,29,60, 98.7,25,78, 99.4,34,55, 100.1,28,68, 100.8,36,85,
    101.5,30,62, 102.2,38,95, 102.9,32,70, 103.6,40,88, 104.3,35,66, 105.0,41,92, 105.7,33,75, 106.4,39,60, 107.1,30,82, 107.8,36,70, 108.5,42,95,
    109.2,34,65, 109.9,40,85, 110.6,31,72, 111.3,37,90, 112.0,29,60, 112.7,35,78, 113.4,27,55, 114.1,32,70, 114.8,25,50, 115.5,30,64, 116.2,24,48,
    116.9,28,58, 117.6,33,72, 118.3,26,52, 119.0,31,66, 119.7,23,46, 120.4,29,60, 121.1,34,80, 121.8,27,54, 122.5,32,68, 123.2,25,48, 123.9,30,62,
    124.6,35,76, 125.3,28,56, 126.0,24,45, 126.7,31,58, 127.4,26,68, 128.1,33,52, 128.8,29,74, 129.5,35,60, 130.2,27,85, 130.9,32,58, 131.6,25,70,
    132.3,30,52, 133.0,34,88, 133.7,28,64, 134.4,33,75, 135.1,26,55, 135.8,31,82, 136.5,29,66, 137.2,34,90, 137.9,27,60, 138.6,32,78, 139.3,30,58,
    140.0,33,85, 140.7,28,65, 141.2,31,72
];
const pts1000Band = [
    0.2,95, 0.6,150, 1.0,70, 1.4,120, 1.8,180, 2.2,85, 2.6,130, 3.0,100, 3.4,165, 3.8,75, 4.2,140, 4.6,110, 5.0,190, 5.4,88, 5.8,125, 6.2,160, 6.6,72,
    7.0,145, 7.4,105, 7.8,185, 8.2,90, 8.6,130, 9.0,170, 9.4,80, 9.8,115, 10.2,155, 10.6,95, 11.0,200, 11.4,75, 11.8,140, 12.2,110, 12.6,175, 13.0,85,
    13.4,125, 13.8,160, 14.2,70, 14.6,135, 15.0,100, 15.4,180, 15.8,90, 16.2,120, 16.6,150, 17.0,78, 17.4,110, 17.8,165, 18.2,95, 18.6,130, 19.0,72,
    19.4,145, 19.8,105, 20.2,175, 20.6,85, 21.0,120, 21.4,150, 21.8,70, 22.2,110, 22.6,160, 23.0,90, 23.4,125, 23.8,75, 24.2,140, 24.6,100, 25.0,170,
    25.4,80, 25.8,115, 26.2,95, 26.6,140, 27.0,70, 27.4,110, 27.8,150, 28.2,85, 28.6,120, 29.0,75, 29.4,100, 29.8,160, 30.2,90, 30.6,130, 31.0,72,
    31.4,110, 31.8,145, 32.2,85, 32.6,180, 33.0,120, 33.4,95, 33.8,150, 34.2,75, 34.6,130, 35.0,105, 35.4,185, 35.8,88, 36.2,140, 36.6,115, 37.0,170,
    37.4,80, 37.8,125, 38.2,100, 38.6,160, 39.0,72, 39.4,135, 39.8,95, 40.2,175, 40.6,85, 41.0,120, 41.4,150, 41.8,70, 42.2,110, 42.6,190, 43.0,95,
    43.4,130, 43.8,160, 44.2,80, 44.6,120, 45.0,100, 45.4,170, 45.8,90, 46.2,140, 46.6,75, 47.0,115, 47.4,155, 47.8,85, 48.2,125, 48.6,95, 49.0,140,
    49.4,105, 49.8,160, 50.2,120, 50.6,185, 51.0,135, 51.4,100, 51.8,165, 52.2,125, 52.6,195, 53.0,110, 53.4,150, 53.8,130, 54.2,175, 54.6,115,
    55.0,160, 55.4,105, 55.8,140, 56.2,90, 56.6,120, 57.0,75, 57.4,150, 57.8,100, 58.2,180, 58.6,85, 59.0,130, 59.4,110, 59.8,165, 60.2,75, 60.6,140,
    61.0,95, 61.4,190, 61.8,85, 62.2,120, 62.6,155, 63.0,70, 63.4,110, 63.8,175, 64.2,90, 64.6,135, 65.0,100, 65.4,160, 65.8,80, 66.2,125, 66.6,185,
    67.0,95, 67.4,140, 67.8,72, 68.2,115, 68.6,165, 69.0,88, 69.4,130, 69.8,100, 70.2,175, 70.6,80, 71.0,120, 71.4,150, 71.8,90, 72.2,135, 72.6,110,
    73.0,170, 73.4,95, 73.8,140, 74.2,115, 74.6,185, 75.0,100, 75.4,150, 75.8,125, 76.2,195, 76.6,110, 77.0,160, 77.4,130, 77.8,175, 78.2,105,
    78.6,145, 79.0,120, 79.4,185, 79.8,95, 80.2,140, 80.6,110, 81.0,165, 81.4,85, 81.8,125, 82.2,100, 82.6,150, 83.0,75, 83.4,120, 83.8,95, 84.2,160,
    84.6,80, 85.0,115, 85.4,140, 85.8,72, 86.2,110, 86.6,180, 87.0,90, 87.4,130, 87.8,155, 88.2,80, 88.6,120, 89.0,175, 89.4,95, 89.8,140, 90.2,110,
    90.6,190, 91.0,85, 91.4,125, 91.8,160, 92.2,75, 92.6,135, 93.0,105, 93.4,170, 93.8,90, 94.2,120, 94.6,150, 95.0,80, 95.4,115, 95.8,165, 96.2,95,
    96.6,140, 97.0,75, 97.4,125, 97.8,180, 98.2,100, 98.6,135, 99.0,85, 99.4,155, 99.8,115, 100.2,190, 100.6,95, 101.0,140, 101.4,120, 101.8,175,
    102.2,105, 102.6,150, 103.0,130, 103.4,195, 103.8,110, 104.2,160, 104.6,125, 105.0,180, 105.4,100, 105.8,145, 106.2,120, 106.6,170, 107.0,95,
    107.4,140, 107.8,115, 108.2,185, 108.6,105, 109.0,150, 109.4,125, 109.8,165, 110.2,90, 110.6,135, 111.0,110, 111.4,175, 111.8,95, 112.2,140,
    112.6,80, 113.0,120, 113.4,160, 113.8,90, 114.2,130, 114.6,75, 115.0,110, 115.4,150, 115.8,85, 116.2,125, 116.6,180, 117.0,95, 117.4,140, 117.8,75,
    118.2,115, 118.6,160, 119.0,90, 119.4,135, 119.8,105, 120.2,185, 120.6,80, 121.0,125, 121.4,150, 121.8,95, 122.2,140, 122.6,72, 123.0,115,
    123.4,170, 123.8,90, 124.2,130, 124.6,105, 125.0,160, 125.4,80, 125.8,120, 126.2,145, 126.6,75, 127.0,110, 127.4,175, 127.8,90, 128.2,135,
    128.6,100, 129.0,160, 129.4,80, 129.8,125, 130.2,190, 130.6,95, 131.0,140, 131.4,115, 131.8,170, 132.2,85, 132.6,130, 133.0,100, 133.4,155,
    133.8,75, 134.2,120, 134.6,180, 135.0,95, 135.4,140, 135.8,110, 136.2,165, 136.6,85, 137.0,125, 137.4,100, 137.8,175, 138.2,90, 138.6,135,
    139.0,115, 139.4,160, 139.8,80, 140.2,120, 140.6,150, 141.0,95, 141.3,130
];
const pts1000Mid = [
    0.5,120, 1.0,180, 1.5,95, 2.0,210, 2.5,140, 3.0,260, 3.5,110, 4.0,330, 4.5,170, 5.0,230, 5.5,390, 6.0,150, 6.5,280, 7.0,120, 7.5,350, 8.0,210,
    8.5,430, 9.0,160, 9.5,300, 10.0,250, 10.5,380, 11.0,190, 11.5,440, 12.0,320, 12.5,270, 13.0,400, 13.5,220, 14.0,360, 14.5,150, 15.0,300,
    15.5,240, 16.0,420, 16.5,180, 17.0,330, 17.5,260, 18.0,140, 18.5,370, 19.0,210, 19.5,290, 20.0,160, 20.5,340, 21.0,230, 21.5,120, 22.0,280,
    22.5,190, 23.0,350, 23.5,140, 24.0,240, 24.5,110, 25.0,200, 3.2,450, 6.8,480, 8.8,310, 10.8,460, 12.2,180, 13.8,290, 15.2,380, 17.8,410,
    9.3,120, 11.8,270, 14.8,200, 16.8,260, 19.2,130, 21.8,400, 5.8,200, 7.8,260, 2.8,340, 4.8,140,
    25.8,150, 26.5,110, 27.2,190, 28.0,130, 28.7,170, 29.5,240, 30.2,120, 31.0,200, 31.8,160, 27.8,90, 29.0,100,
    32.5,250, 33.0,180, 33.5,330, 34.0,210, 34.5,400, 35.0,290, 35.5,150, 36.0,360, 36.5,230, 37.0,310, 37.5,180, 38.0,270, 38.5,140, 39.0,380,
    33.8,440, 36.8,420,
    40.0,150, 40.5,220, 41.0,300, 41.5,180, 42.0,260, 42.5,350, 43.0,200, 43.5,380, 44.0,280, 44.5,330, 45.0,250, 45.5,400, 46.0,300, 46.5,220,
    47.0,350, 47.5,180, 43.8,420, 46.8,290, 45.2,340,
    48.5,120, 49.0,160, 49.5,110, 50.0,190, 50.5,140, 51.0,210, 51.5,130, 52.0,180, 52.5,240, 53.0,150, 53.5,200, 54.0,120, 54.5,170, 55.0,230,
    55.5,140, 56.0,190, 50.8,170, 52.8,130, 54.8,200, 49.8,220, 51.8,250, 53.8,180,
    56.5,150, 57.0,240, 57.5,310, 58.0,200, 58.5,380, 59.0,270, 59.5,450, 60.0,330, 60.5,220, 61.0,400, 61.5,290, 62.0,360, 62.5,240, 63.0,430,
    63.5,310, 64.0,470, 64.5,260, 65.0,380, 65.5,320, 66.0,440, 66.5,270, 67.0,350, 67.5,230, 68.0,400, 68.5,300, 69.0,360, 69.5,250, 70.0,420,
    70.5,320, 71.0,280, 71.5,380, 72.0,230, 72.5,330, 73.0,190, 60.8,480, 62.8,300, 64.8,350, 66.8,400, 68.8,270, 70.8,350, 58.8,300, 63.2,250,
    65.2,290, 67.2,310, 69.2,410, 61.2,260,
    73.5,150, 74.0,250, 74.5,130, 75.0,200, 75.5,160, 76.0,240, 76.5,120, 77.0,180, 77.5,140, 78.0,210, 78.5,110, 79.0,160, 80.0,130, 81.0,100,
    82.0,150, 83.0,120, 84.0,180, 85.0,140, 86.0,110, 84.5,230, 81.5,190,
    87.0,200, 87.5,280, 88.0,160, 88.5,330, 89.0,220, 89.5,260, 90.0,150, 90.5,300, 91.0,200, 91.5,350, 92.0,240, 92.5,180, 93.0,300, 93.5,220,
    94.0,270, 94.5,150, 95.0,330, 95.5,200, 88.8,400, 91.8,420, 93.8,380, 90.2,450,
    96.0,250, 96.5,330, 97.0,290, 97.5,380, 98.0,230, 98.5,350, 99.0,300, 99.5,260, 100.0,340, 100.5,280, 101.0,220, 101.5,310, 102.0,250,
    102.5,180, 103.0,290, 103.5,200, 97.8,320, 99.8,360, 98.8,270,
    104.0,150, 104.5,220, 105.0,180, 105.5,260, 106.0,140, 106.5,200, 107.0,250, 107.5,160, 108.0,230, 108.5,120, 109.0,190, 109.5,280, 110.0,150,
    110.5,210, 111.0,130, 111.5,180, 112.0,240, 112.5,110, 113.0,170, 113.5,300, 114.0,140, 114.5,200, 108.8,350, 111.8,380,
    115.0,250, 115.5,180, 116.0,320, 116.5,230, 117.0,400, 117.5,280, 118.0,350, 118.5,220, 119.0,450, 119.5,300, 120.0,380, 120.5,260, 121.0,330,
    121.5,200, 122.0,410, 122.5,290, 123.0,240, 123.5,360, 124.0,180, 124.5,280, 118.8,490, 121.8,470, 120.2,200,
    125.0,150, 125.5,230, 126.0,120, 126.5,190, 127.0,280, 127.5,160, 128.0,240, 128.5,330, 129.0,200, 129.5,140, 130.0,260, 130.5,380, 131.0,220,
    131.5,300, 132.0,180, 132.5,250, 133.0,340, 133.5,160, 134.0,230, 134.5,290, 135.0,130, 135.5,210, 136.0,370, 136.5,180, 137.0,250, 137.5,120,
    138.0,200, 138.5,310, 139.0,170, 139.5,240, 140.0,140, 140.5,220, 141.0,180, 131.8,440, 135.8,420, 139.8,400
];
const pts1000High = [
    0.5,600, 1.2,720, 1.8,880, 2.5,560, 3.0,1080, 3.5,650, 4.0,920, 4.5,780, 5.0,1100, 5.5,540, 6.0,700, 6.3,990, 6.8,850, 7.2,640, 7.6,1050,
    8.0,760, 8.4,580, 8.8,920, 9.2,680, 9.6,1120, 10.0,820, 10.5,560, 11.0,950, 11.5,720, 12.0,880, 12.5,620, 13.0,1030, 13.5,770, 14.0,900,
    14.5,540, 15.0,860, 15.5,680, 16.0,1040, 16.5,590, 17.0,800, 17.5,940, 18.0,710, 18.5,1180, 19.0,640, 19.5,870, 20.0,560, 20.5,740, 21.0,990,
    21.5,610, 22.0,820, 22.5,1060, 23.0,690, 23.5,930, 24.0,580, 24.5,780, 25.0,640,
    26.0,720, 27.5,590, 29.0,680, 30.5,840, 32.0,560, 33.0,740, 33.8,960, 34.5,620, 35.5,860, 36.5,690, 37.2,1000, 38.0,770, 38.8,580, 39.5,900,
    40.2,650, 40.8,820, 41.3,1050, 41.8,720, 42.3,940, 42.8,600, 43.3,860, 43.8,1100, 44.3,700, 44.8,960, 45.3,640, 45.8,1020, 46.3,800, 46.8,560,
    47.3,900, 47.8,1010, 48.3,680, 51.0,560, 53.5,620, 55.0,700,
    56.5,1050, 57.0,860, 57.5,650, 58.0,980, 58.5,740, 59.0,1120, 59.5,560, 60.0,900, 60.5,780, 61.0,1060, 61.5,620, 62.0,960, 62.5,830, 63.0,700,
    63.5,1090, 64.0,580, 64.5,920, 65.0,760, 65.5,1000, 66.0,640, 66.5,870, 67.0,720, 67.5,1150, 68.0,560, 68.5,940, 69.0,800, 69.5,660, 70.0,1020,
    70.5,860, 71.0,600, 71.5,980, 72.0,740, 72.5,880, 73.0,620, 73.5,1100, 74.0,700, 74.5,920, 75.0,580, 75.5,810, 76.0,680,
    77.0,760, 78.5,1000, 79.5,620, 81.0,900, 82.5,700, 84.0,560, 85.0,830, 85.8,1080,
    86.5,640, 87.0,960, 87.5,780, 88.0,560, 88.5,1140, 89.0,700, 89.5,880, 90.0,1010, 90.5,620, 91.0,820, 91.5,1100, 92.0,740, 92.5,900, 93.0,580,
    93.5,1040, 94.0,680, 94.5,860, 95.0,760, 95.5,1120, 96.0,600, 96.5,950, 97.0,720, 97.5,820, 98.0,1000, 98.5,640, 99.0,900, 99.5,560, 100.0,780,
    101.0,880, 102.0,640, 103.0,760, 104.5,560, 106.0,900, 107.5,680, 109.0,1000, 110.5,600, 112.0,820, 113.5,700, 114.5,940,
    115.5,760, 116.0,1020, 116.5,620, 117.0,880, 117.5,1150, 118.0,700, 118.5,960, 119.0,580, 119.5,840, 120.0,1060, 120.5,740, 121.0,900,
    121.5,640, 122.0,1010, 122.5,780, 123.0,560, 123.5,920, 124.0,700, 124.5,1100, 125.0,600, 125.5,850, 126.0,980, 126.5,660, 127.0,1200,
    127.5,760, 128.0,900, 128.5,560, 129.0,1040, 129.5,820, 130.0,700, 130.5,960, 131.0,620, 131.5,1120, 132.0,850, 132.5,740, 133.0,1000,
    133.5,580, 134.0,900, 134.5,700, 135.0,1060, 135.5,800, 136.0,640, 136.5,940, 137.0,760, 137.5,1000, 138.0,560, 138.5,880, 139.0,720,
    139.5,1100, 140.0,640, 140.5,820, 141.0,1020,
    0.4,1742, 0.4,1553, 2.2,1965, 1.8,1847, 3.7,1830, 4.7,1646, 7.1,1925, 7.4,1907, 6.9,1781, 7.4,1711, 8.6,1721, 8.0,1667, 8.6,1550, 7.7,1448,
    9.6,1728, 11.8,1755, 12.4,1883, 12.4,1618, 12.0,1455, 11.8,1395, 15.5,1443, 17.2,1790, 18.8,1790, 18.4,1767, 18.2,1492, 20.6,1706, 22.5,1825,
    22.9,1732, 23.1,1672, 22.2,1641, 22.6,1465, 24.9,1486, 24.9,1798, 27.4,1360, 32.6,1833, 32.9,1772, 33.3,1755, 32.7,1628, 35.4,1471, 39.1,1614,
    40.3,1399, 41.8,1539, 41.5,1926, 42.4,1935, 42.8,1883, 43.0,1763, 43.4,1790, 45.6,1982, 43.7,1735, 42.8,1693, 43.4,1623, 44.6,1618, 45.5,1527,
    46.1,1500, 46.7,1422, 43.7,1404, 44.3,1360, 45.2,1330, 44.1,1273, 47.0,1330, 48.3,1211, 46.2,1560, 6.5,1246, 6.8,1159, 7.4,1068, 8.8,1132,
    8.6,1281, 12.7,1124, 13.3,992, 14.3,922, 15.7,1036, 18.8,1080, 17.3,1360, 18.2,1290, 22.9,1264, 23.8,1150, 24.6,1237, 22.7,1071, 23.1,922,
    23.7,957, 24.3,1325, 28.0,1124, 31.7,1101, 31.7,1059, 32.7,922, 34.2,1237, 35.4,1010, 36.6,1150, 37.2,992, 39.1,1115, 40.0,1080, 43.7,1097,
    44.0,1062, 44.3,922, 44.8,983, 47.3,1031, 47.7,1001, 45.2,1325, 45.6,1281, 46.4,1329,
    57.5,1755, 57.2,1635, 61.8,1977, 61.2,1877, 62.0,1763, 63.0,1430, 64.3,1877, 64.9,1833, 65.5,1527, 66.5,1521, 67.9,1492, 69.2,1749, 70.8,1991,
    71.6,1767, 72.6,1737, 73.2,1728, 72.2,1644, 71.0,1609, 69.5,1605, 73.5,1679, 74.2,1527, 74.1,1439, 75.9,1886, 78.1,1597, 78.6,1571, 79.0,1728,
    79.0,1684, 80.2,1506, 81.2,1825, 83.0,1486, 84.3,1465, 85.4,1807, 85.6,1819, 88.2,1422, 88.8,1562, 89.2,1527, 89.2,1760, 90.0,1667, 90.7,1951,
    91.0,1644, 91.3,1571, 91.9,1825, 92.5,1772, 92.9,1637, 94.6,1672, 96.2,1518, 98.4,1746, 100.1,1500, 100.7,1500, 101.7,1947, 101.7,1711,
    108.8,1716, 109.9,1486, 113.4,1970, 115.2,1825, 116.5,1697, 117.1,1430, 117.7,1982, 117.9,1877, 118.4,1917, 118.6,1574, 120.8,1706, 121.4,1553,
    121.2,1942, 121.4,1483, 123.6,1413, 124.1,1693, 125.4,1632, 126.9,1860, 127.3,1798, 128.1,1571, 129.0,1605, 129.7,1632, 129.4,1515, 130.6,1956,
    132.4,1961, 133.0,1746, 133.7,1921, 133.4,1833, 134.0,1749, 134.9,1658, 136.1,1961, 136.5,1877, 135.9,1562, 138.6,1825, 139.4,1527, 140.4,1930,
    138.0,1422, 130.8,1439, 127.5,1413, 120.4,1387, 117.1,1369, 114.9,1308, 115.0,1325, 101.7,1294, 101.1,1439, 59.5,1320, 60.8,1300, 62.5,1320,
    63.2,1280, 60.3,1170, 61.0,1110, 62.2,1150, 63.8,1180, 64.5,1270, 66.0,1190, 70.8,1210, 73.5,1230, 75.7,1340, 80.0,1190, 85.0,1300, 86.0,1290,
    84.6,1230, 89.5,1150, 90.2,1120, 92.5,1260, 97.0,1180, 100.0,1290, 105.5,1260, 110.0,1100, 116.0,1300, 119.2,1210, 123.0,1360, 126.5,1320,
    128.5,1240, 130.0,1260, 131.5,1280, 133.0,1240, 134.5,1200, 137.5,1300, 139.0,1110, 140.5,1100
];

// 1000 Hz histogram
const hist1000Start = 0.9;
const hist1000Width = 3.38;
const hist1000Counts = [
    3, 3, 11, 11, 77, 158, 179, 200, 208, 398, 373, 314, 307, 273, 280, 255, 260, 238, 207, 178,
    153, 138, 143, 161, 141, 114, 142, 125, 113, 130, 110, 106, 91, 102, 98, 83, 88, 86, 72, 72,
    70, 83, 67, 55, 51, 58, 63, 46, 60, 39, 46, 35, 42, 32, 35, 29, 26, 34, 22, 35,
    23, 29, 30, 35, 31, 27, 28, 16, 27, 22, 23, 22, 21, 25
];

// ---------- drawing ----------

const dotColor = "#0072BD";
const barColor = "#352A87";
const axisColor = "#262626";
const gridColor = "#e3e3e3";

const svg = d3.select("body").append("svg")
    .attr("width", 1239)
    .attr("height", 1443)
    .style("font-family", "'DejaVu Sans', sans-serif");

const defs = svg.append("defs");

const pairs = flat => d3.range(0, flat.length, 2).map(i => [flat[i], flat[i + 1]]);
const triples = flat => d3.range(0, flat.length, 3)
    .flatMap(i => [[flat[i], flat[i + 1]], [flat[i], flat[i + 2]]]);

function panel(o) {
    const g = svg.append("g");
    const x = d3.scaleLinear().domain(o.xDomain).range([o.left, o.right]);
    const y = d3.scaleLinear().domain(o.yDomain).range([o.bottom, o.top]);

    // grid
    g.append("g")
        .selectAll("line")
        .data(o.xTicks)
        .join("line")
        .attr("x1", d => x(d)).attr("x2", d => x(d))
        .attr("y1", o.top).attr("y2", o.bottom);
    g.append("g")
        .selectAll("line")
        .data(o.yTicks)
        .join("line")
        .attr("x1", o.left).attr("x2", o.right)
        .attr("y1", d => y(d)).attr("y2", d => y(d));
    g.selectAll("line").attr("stroke", gridColor).attr("shape-rendering", "crispEdges");

    defs.append("clipPath").attr("id", "clip-" + o.id)
        .append("rect")
        .attr("x", o.left).attr("y", o.top)
        .attr("width", o.right - o.left).attr("height", o.bottom - o.top);

    const plot = g.append("g").attr("clip-path", `url(#clip-${o.id})`);
    return { g, plot, x, y, o };
}

function frame(p) {
    const { g, x, y, o } = p;

    const axes = [
        [d3.axisBottom(x).tickValues(o.xTicks), `translate(0,${o.bottom})`, true],
        [d3.axisTop(x).tickValues(o.xTicks), `translate(0,${o.top})`, false],
        [d3.axisLeft(y).tickValues(o.yTicks), `translate(${o.left},0)`, true],
        [d3.axisRight(y).tickValues(o.yTicks), `translate(${o.right},0)`, false]
    ];
    for (const [axis, tr, labelled] of axes) {
        axis.tickSizeInner(-5).tickSizeOuter(0).tickPadding(8)
            .tickFormat(labelled ? d3.format("d") : () => "");
        const a = g.append("g").attr("transform", tr).call(axis);
        a.select(".domain").remove();
        a.attr("color", axisColor)
            .attr("font-size", 15)
            .attr("font-family", "'DejaVu Sans', sans-serif");
        a.selectAll("text").attr("fill", axisColor);
    }

    g.append("rect")
        .attr("x", o.left).attr("y", o.top)
        .attr("width", o.right - o.left).attr("height", o.bottom - o.top)
        .attr("fill", "none")
        .attr("stroke", axisColor)
        .attr("stroke-width", 1)
        .attr("shape-rendering", "crispEdges");

    const cx = (o.left + o.right) / 2;
    g.append("text")
        .attr("x", cx).attr("y", o.titleY)
        .attr("text-anchor", "middle")
        .attr("font-family", "'Liberation Serif', 'Times New Roman', serif")
        .attr("font-size", 16)
        .attr("textLength", o.titleW)
        .attr("lengthAdjust", "spacingAndGlyphs")
        .attr("fill", "#000")
        .text(o.title);

    g.append("text")
        .attr("x", cx).attr("y", o.xLabelY)
        .attr("text-anchor", "middle")
        .attr("font-size", 16)
        .attr("fill", axisColor)
        .text(o.xLabel);

    const cy = (o.top + o.bottom) / 2;
    g.append("text")
        .attr("transform", `translate(${o.yLabelX},${cy}) rotate(-90)`)
        .attr("text-anchor", "middle")
        .attr("dy", "0.35em")
        .attr("font-size", 16)
        .attr("fill", axisColor)
        .text(o.yLabel);
}

function scatter(p, pts) {
    p.plot.append("g")
        .attr("fill", dotColor)
        .selectAll("circle")
        .data(pts)
        .join("circle")
        .attr("cx", d => p.x(d[0]))
        .attr("cy", d => p.y(d[1]))
        .attr("r", 1.6);
}

function bars(p, bins) {
    p.plot.append("g")
        .selectAll("rect")
        .data(bins)
        .join("rect")
        .attr("x", d => p.x(d.x0))
        .attr("width", d => p.x(d.x1) - p.x(d.x0))
        .attr("y", d => p.y(d.count))
        .attr("height", d => p.y(0) - p.y(d.count))
        .attr("fill", barColor)
        .attr("stroke", barColor)
        .attr("stroke-width", 0.6);
}

const binsFromCounts = (start, width, counts) =>
    counts.map((c, i) => ({ x0: start + i * width, x1: start + (i + 1) * width, count: c }));

// --- 10 Hz ---
const pTL = panel({
    id: "tl", left: 77, right: 558, top: 29, bottom: 429,
    xDomain: [0, 110], yDomain: [0, 20], xTicks: ticksTime110, yTicks: ticksFreq20,
    title: titles[0], titleY: 21, titleW: 393,
    xLabel: "Time [s]", xLabelY: 470, yLabel: "Frequency [Hz]", yLabelX: 38
});
scatter(pTL, pairs(pts10Band).concat(pairs(pts10Out)));
frame(pTL);

const pTR = panel({
    id: "tr", left: 724, right: 1207, top: 52, bottom: 434,
    xDomain: [0, 20], yDomain: [0, 800], xTicks: ticksHistX20, yTicks: ticksCount800,
    title: titles[1], titleY: 43, titleW: 512,
    xLabel: "Frequency [Hz]", xLabelY: 474, yLabel: "Count", yLabelX: 675
});
pTR.plot.append("line")
    .attr("x1", pTR.x(hist10Span[0])).attr("x2", pTR.x(hist10Span[1]))
    .attr("y1", pTR.y(0)).attr("y2", pTR.y(0))
    .attr("stroke", barColor).attr("stroke-width", 1.5);
bars(pTR, pairs(hist10Bins).map(([s, c]) => ({ x0: s, x1: s + hist10Width, count: c })));
frame(pTR);

// --- 100 Hz ---
const pML = panel({
    id: "ml", left: 77, right: 558, top: 523, bottom: 923,
    xDomain: [0, 110], yDomain: [0, 200], xTicks: ticksTime110, yTicks: ticksFreq200,
    title: titles[2], titleY: 514, titleW: 403,
    xLabel: "Time [s]", xLabelY: 963, yLabel: "Frequency [Hz]", yLabelX: 30
});
scatter(pML, pairs(pts100Floor).concat(pairs(pts100FloorEdge), pairs(pts100Upper)));
frame(pML);

const pMR = panel({
    id: "mr", left: 724, right: 1207, top: 524, bottom: 925,
    xDomain: [0, 250], yDomain: [0, 500], xTicks: ticksHistX250, yTicks: ticksCount500,
    title: titles[3], titleY: 515, titleW: 508,
    xLabel: "Frequency [Hz]", xLabelY: 964, yLabel: "Count", yLabelX: 675
});
bars(pMR, binsFromCounts(hist100Start, hist100Width, hist100Counts));
frame(pMR);

// --- 1000 Hz ---
const pBL = panel({
    id: "bl", left: 77, right: 558, top: 1015, bottom: 1396,
    xDomain: [0, 150], yDomain: [0, 2000], xTicks: ticksTime150, yTicks: ticksFreq2000,
    title: titles[4], titleY: 1005, titleW: 418,
    xLabel: "Time [s]", xLabelY: 1437, yLabel: "Frequency [Hz]", yLabelX: 19
});
scatter(pBL, triples(pts1000Floor).concat(pairs(pts1000Band), pairs(pts1000Mid), pairs(pts1000High)));
frame(pBL);

const pBR = panel({
    id: "br", left: 724, right: 1207, top: 1015, bottom: 1397,
    xDomain: [0, 250], yDomain: [0, 500], xTicks: ticksHistX250, yTicks: ticksCount500,
    title: titles[5], titleY: 1006, titleW: 525,
    xLabel: "Frequency [Hz]", xLabelY: 1437, yLabel: "Count", yLabelX: 675
});
bars(pBR, binsFromCounts(hist1000Start, hist1000Width, hist1000Counts));
frame(pBR);
</script>
</body>
</html>
